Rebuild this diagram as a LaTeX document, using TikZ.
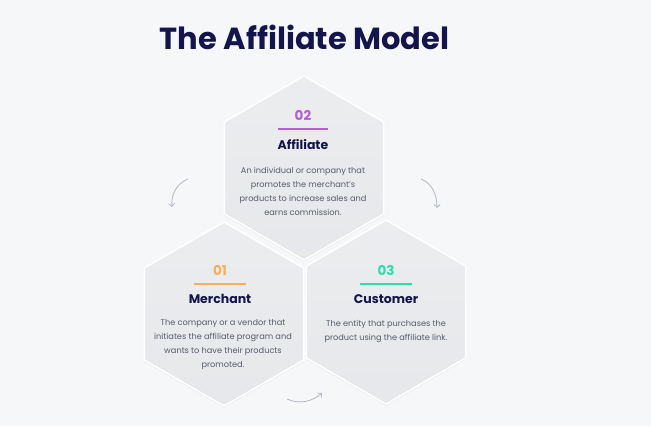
\documentclass[tikz,border=0pt]{standalone}
\usepackage{fontspec}
\setmainfont{Poppins}
\usetikzlibrary{shapes.geometric,arrows.meta,shadows}

\definecolor{navy}{HTML}{13154C}
\definecolor{bgcol}{HTML}{F6F7F9}
\definecolor{hexcol}{HTML}{E3E5E8}
\definecolor{txtcol}{HTML}{565B68}
\definecolor{numpurple}{HTML}{B65DD5}
\definecolor{numorange}{HTML}{F4B05C}
\definecolor{numteal}{HTML}{30DBAE}
\definecolor{arrcol}{HTML}{B3B7C2}

\tikzset{
  hexa/.style={regular polygon, regular polygon sides=6, shape border rotate=90,
    minimum size=184pt, inner sep=0pt, outer sep=0pt, draw=white, line width=1.5pt,
    top color=hexcol!70!white, bottom color=hexcol!90!white,
    drop shadow={shadow xshift=0pt, shadow yshift=-1.5pt, opacity=.06, fill=black}},
  numtxt/.style={font=\bfseries\fontsize{13.5}{14}\selectfont},
  headtxt/.style={font=\bfseries\fontsize{12.5}{14}\selectfont, text=navy},
  bodytxt/.style={font=\fontsize{8.2}{14}\selectfont, text=txtcol, align=center},
  arr/.style={draw=arrcol, line width=.8pt, -{Straight Barb[length=3pt,width=6pt]}}
}

\begin{document}
\begin{tikzpicture}[x=1pt,y=-1pt]
    \fill[bgcol] (0,0) rectangle (651,426);
    \useasboundingbox (0,0) rectangle (651,426);

    \node at (304.5,37){\fontsize{30.5}{32}\selectfont\bfseries\color{navy}The Affiliate Model};

    % hexagons
    \node[hexa] (aff) at (304,168) {};
    \node[hexa] (mer) at (224,314) {};
    \node[hexa] (cus) at (386,312) {};

    % 02 affiliate
    \node[numtxt, text=numpurple] (n2) at (303,115) {02};
    \draw[numpurple, line width=1.8pt] (278,129)--(328,129);
    \node[headtxt] (h2) at (303,145) {Affiliate};
    \node[bodytxt] (b2) at (303,191) {An individual or company that\\promotes the merchant's\\products to increase sales and\\earns commission.};

    % 01 merchant
    \node[numtxt, text=numorange] (n1) at (220,270) {01};
    \draw[numorange, line width=1.8pt] (194,284)--(246,284);
    \node[headtxt] (h1) at (220,299) {Merchant};
    \node[bodytxt] (b1) at (223,345) {The company or a vendor that\\initiates the affiliate program and\\wants to have their products\\promoted.};

    % 03 customer
    \node[numtxt, text=numteal] (n3) at (386,270) {03};
    \draw[numteal, line width=1.8pt] (360,284)--(412,284);
    \node[headtxt] (h3) at (386,299) {Customer};
    \node[bodytxt] (b3) at (386,331) {The entity that purchases the\\product using the affiliate link.};

    % arrows
    \coordinate (la) at (188,179); \coordinate (lb) at (172,207);
    \coordinate (ra) at (421,179); \coordinate (rb) at (437,208);
    \coordinate (ba) at (287,399); \coordinate (bb) at (322,393);
    \draw[arr] (la) .. controls (176,184) and (171,195) .. (lb);
    \draw[arr] (ra) .. controls (432,183) and (437,195) .. (rb);
    \draw[arr] (ba) .. controls (300,405) and (313,401) .. (bb);
\end{tikzpicture}
\end{document}
